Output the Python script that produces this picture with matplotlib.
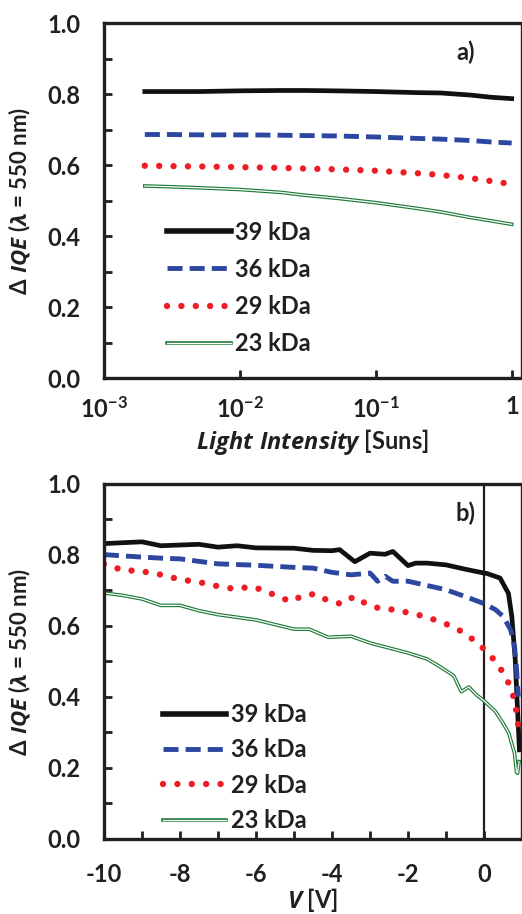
import matplotlib
matplotlib.use("Agg")
import matplotlib.pyplot as plt
from matplotlib.lines import Line2D

plt.rcParams['font.family'] = ['Lato', 'DejaVu Sans']
plt.rcParams['mathtext.fontset'] = 'custom'
plt.rcParams['mathtext.rm'] = 'Lato:bold'
plt.rcParams['mathtext.bf'] = 'Lato:bold'
plt.rcParams['mathtext.it'] = 'Open Sans:italic:bold'
plt.rcParams['mathtext.fallback'] = 'stixsans'

TXT = '#231f20'
C39 = '#111111'
C36 = '#2d47a0'
C29 = '#ee1c24'
C23 = '#1f7a38'

labels = ['39 kDa', '36 kDa', '29 kDa', '23 kDa']

# panel a: light intensity (Suns)
sun = [0.002, 0.003, 0.005, 0.01, 0.02, 0.03, 0.05, 0.1, 0.2, 0.3, 0.5, 0.7, 1.0]
a39 = [0.807, 0.807, 0.807, 0.809, 0.810, 0.810, 0.809, 0.807, 0.804, 0.803, 0.797, 0.791, 0.787]
a36 = [0.686, 0.686, 0.685, 0.685, 0.684, 0.683, 0.682, 0.679, 0.675, 0.673, 0.669, 0.665, 0.662]
a29 = [0.598, 0.597, 0.596, 0.594, 0.592, 0.590, 0.588, 0.584, 0.577, 0.572, 0.563, 0.555, 0.546]
a23 = [0.541, 0.539, 0.536, 0.531, 0.523, 0.515, 0.507, 0.494, 0.478, 0.468, 0.452, 0.443, 0.433]

# panel b: voltage (V)
v39 = [-10, -9, -8.5, -7.5, -7, -6.5, -6, -5, -4.5, -4, -3.8, -3.4, -3.0, -2.6, -2.4, -2.0, -1.8,
       -1.5, -1, -0.5, 0, 0.07, 0.42, 0.64, 0.73, 0.82, 0.88, 0.93]
b39 = [0.832, 0.837, 0.826, 0.830, 0.822, 0.826, 0.820, 0.819, 0.813, 0.812, 0.815, 0.781, 0.805,
       0.802, 0.810, 0.770, 0.777, 0.777, 0.772, 0.760, 0.749, 0.748, 0.735, 0.692, 0.626, 0.504,
       0.363, 0.251]
v36 = [-10, -9, -8.5, -8, -7, -6, -5, -4.5, -4, -3.5, -3, -2.8, -2.6, -2.4, -2, -1.5, -1, -0.5,
       0, 0.3, 0.5, 0.7, 0.8, 0.85, 0.9]
b36 = [0.801, 0.794, 0.791, 0.789, 0.775, 0.771, 0.765, 0.763, 0.751, 0.744, 0.749, 0.726, 0.740,
       0.726, 0.726, 0.714, 0.702, 0.683, 0.663, 0.646, 0.627, 0.589, 0.542, 0.486, 0.401]
v29 = [-10, -9.84, -9.49, -9.11, -8.74, -8.37, -8.0, -7.62, -7.26, -6.88, -6.51, -6.13, -5.78,
       -5.43, -5.08, -4.76, -4.44, -4.10, -3.75, -3.42, -3.11, -2.77, -2.39, -2.02, -1.65, -1.29,
       -0.94, -0.60, -0.28, 0, 0.26, 0.48, 0.66, 0.78, 0.85, 0.9]
b29 = [0.775, 0.770, 0.756, 0.756, 0.749, 0.742, 0.730, 0.726, 0.718, 0.709, 0.704, 0.711, 0.700,
       0.683, 0.669, 0.686, 0.690, 0.671, 0.662, 0.683, 0.663, 0.650, 0.646, 0.638, 0.629, 0.617,
       0.603, 0.585, 0.561, 0.535, 0.505, 0.472, 0.436, 0.398, 0.359, 0.319]
v23 = [-10, -9.5, -9, -8.5, -8, -7.5, -7, -6, -5, -4.6, -4.1, -3.5, -3, -2.5, -2, -1.5, -1.2,
       -0.8, -0.6, -0.4, -0.2, 0, 0.3, 0.5, 0.65, 0.8, 0.85, 0.88, 0.92]
b23 = [0.693, 0.686, 0.676, 0.658, 0.658, 0.643, 0.632, 0.617, 0.591, 0.591, 0.568, 0.571, 0.552,
       0.538, 0.524, 0.507, 0.488, 0.460, 0.415, 0.428, 0.406, 0.389, 0.359, 0.326, 0.298, 0.242,
       0.190, 0.185, 0.218]

DOTS = (0.001, 2.25)
DASH = (3.1, 1.45)


def draw_series(ax, x39, y39, x36, y36, x29, y29, x23, y23):
    l39, = ax.plot(x39, y39, color=C39, lw=3.4)
    l36, = ax.plot(x36, y36, color=C36, lw=3.5, dashes=DASH, dash_capstyle='butt')
    l29, = ax.plot(x29, y29, color=C29, lw=4.6, dashes=DOTS, dash_capstyle='round')
    g1, = ax.plot(x23, y23, color=C23, lw=2.6)
    g2, = ax.plot(x23, y23, color='white', lw=0.9)
    h39 = Line2D([], [], color=C39, lw=4.0)
    return [h39, l36, l29, (g1, g2)]


fig = plt.figure(figsize=(5.22, 9.14), dpi=100)
ax1 = fig.add_axes([0.199, 0.5864, 0.799, 0.3884])
ax2 = fig.add_axes([0.199, 0.0821, 0.799, 0.3884])

for ax in (ax1, ax2):
    for s in ax.spines.values():
        s.set_linewidth(2.4)
        s.set_color(TXT)
    ax.spines['right'].set_linewidth(1.0)
    ax.set_ylim(0, 1.0)
    ax.set_yticks([i / 10 for i in range(11)])
    ax.set_yticklabels(['%.1f' % (i / 10) if i % 2 == 0 else '' for i in range(11)],
                       fontweight='bold')
    ax.tick_params(direction='in', length=6, width=2, color=TXT, labelsize=17,
                   labelcolor=TXT, top=False, right=False)
    ax.tick_params(axis='y', pad=17)
    ax.set_ylabel(r'$\mathit{\Delta\ IQE}$ ($\lambda$ = 550 nm)', fontsize=16, color=TXT,
                  fontweight='bold', labelpad=10)

# panel a
ax1.set_xscale('log')
ax1.set_xlim(1e-3, 1.17)
hand_a = draw_series(ax1, sun, a39, sun, a36, sun, a29, sun, a23)
ax1.set_xticks([1e-3, 1e-2, 1e-1, 1])
ax1.set_xticklabels([r'$10^{-3}$', r'$10^{-2}$', r'$10^{-1}$', r'$1$'])
ax1.xaxis.set_minor_locator(matplotlib.ticker.NullLocator())
ax1.tick_params(axis='x', pad=13)
ax1.set_xlabel(r'$\mathit{Light\ Intensity}$ [Suns]', fontsize=17, color=TXT,
               fontweight='bold', labelpad=4)
ax1.text(0.868, 0.918, 'a)', transform=ax1.transAxes, fontsize=17, fontweight='bold',
         color=TXT, ha='center', va='center')
ax1.legend(hand_a, labels, loc='lower left', bbox_to_anchor=(0.10, 0.005),
           frameon=False, handlelength=2.7, handletextpad=0.2, labelspacing=0.6,
           labelcolor=TXT, prop={'weight': 'bold', 'size': 17})

# panel b
ax2.set_xlim(-10, 0.97)
ax2.axvline(0, color=TXT, lw=1.6)
hand_b = draw_series(ax2, v39, b39, v36, b36, v29, b29, v23, b23)
ax2.set_xticks(list(range(-10, 1)))
ax2.set_xticklabels([str(v) if v % 2 == 0 else '' for v in range(-10, 1)], fontweight='bold')
ax2.tick_params(axis='x', pad=17)
ax2.set_xlabel(r'$\mathit{V}$ [V]', fontsize=17, color=TXT, fontweight='bold', labelpad=0)
ax2.text(0.868, 0.918, 'b)', transform=ax2.transAxes, fontsize=17, fontweight='bold',
         color=TXT, ha='center', va='center')
ax2.legend(hand_b, labels, loc='lower left', bbox_to_anchor=(0.09, -0.04),
           frameon=False, handlelength=2.7, handletextpad=0.2, labelspacing=0.52,
           labelcolor=TXT, prop={'weight': 'bold', 'size': 17})

fig.savefig('out.png', dpi=100)
